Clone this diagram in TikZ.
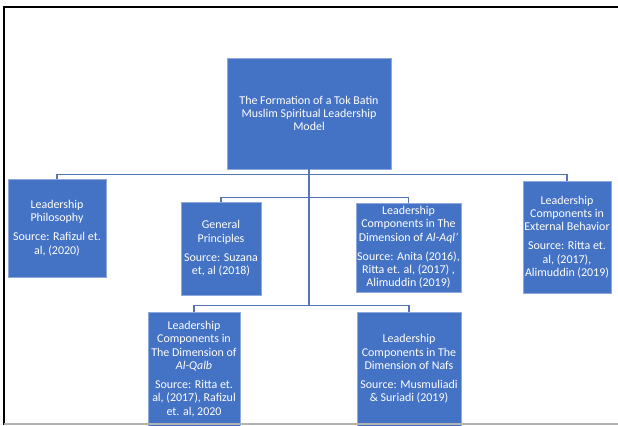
\documentclass[tikz,border=0pt]{standalone}
\usepackage{fontspec}
\setmainfont{Carlito}
\usetikzlibrary{positioning}
\definecolor{boxblue}{HTML}{4472C4}
\definecolor{boxedge}{HTML}{8EA9DB}
\definecolor{linkblue}{HTML}{5575B5}

\begin{document}
\begin{tikzpicture}[
  x=1bp, y=-1bp,
  box/.style={fill=boxblue, draw=boxedge, line width=0.5bp, text=white, align=center,
    inner sep=0pt, font=\fontsize{12}{13.3}\selectfont},
  link/.style={draw=linkblue, line width=1.4bp},
  frame/.style={draw=black, line width=1.8bp}
]
\useasboundingbox (0,0) rectangle (618,425);
\node[box, minimum width=164bp, minimum height=111bp] (root) at (309,113.5)
  {The Formation of a Tok Batin\\Muslim Spiritual Leadership\\Model};
\node[box, minimum width=98bp, minimum height=98bp] (phil) at (57,228)
  {Leadership\\Philosophy\\[6pt]Source: Rafizul et.\\al, (2020)};
\node[box, minimum width=80bp, minimum height=93bp] (general) at (221,248.5)
  {General\\Principles\\[6pt]Source: Suzana\\et, al (2018)};
\node[box, minimum width=105bp, minimum height=89bp] (aql) at (408.5,247.5)
  {Leadership\\Components in The\\Dimension of \textit{Al-Aql’}\\[6pt]Source: Anita (2016),\\Ritta et. al, (2017) ,\\Alimuddin (2019)};
\node[box, minimum width=88bp, minimum height=112bp] (behav) at (567,237)
  {Leadership\\Components in\\External Behavior\\[6pt]Source: Ritta et.\\al, (2017),\\Alimuddin (2019)};
\node[box, minimum width=92bp, minimum height=114bp] (qalb) at (194,369)
  {Leadership\\Components in\\The Dimension of\\\textit{Al-Qalb}\\[6pt]Source: Ritta et.\\al, (2017), Rafizul\\et. al, 2020};
\node[box, minimum width=104bp, minimum height=114bp] (nafs) at (409,369)
  {Leadership\\Components in The\\Dimension of Nafs\\[6pt]Source: Musmuliadi\\\& Suriadi (2019)};
\coordinate (hub) at (309,306);
% connectors
\draw[link] (root.south) -- (hub);
\draw[link] (phil.north) -- ++(0,-4) -| (behav.north);
\draw[link] (general.north) -- ++(0,-4) -| (aql.north);
\draw[link] (qalb.north) -- ++(0,-6) -| (nafs.north);
% page frame
\draw[frame] (618,7) -- (4,7) -- (4,425);
\draw[gray!60, line width=1.2bp] (4,424) -- (618,424);
\end{tikzpicture}
\end{document}
